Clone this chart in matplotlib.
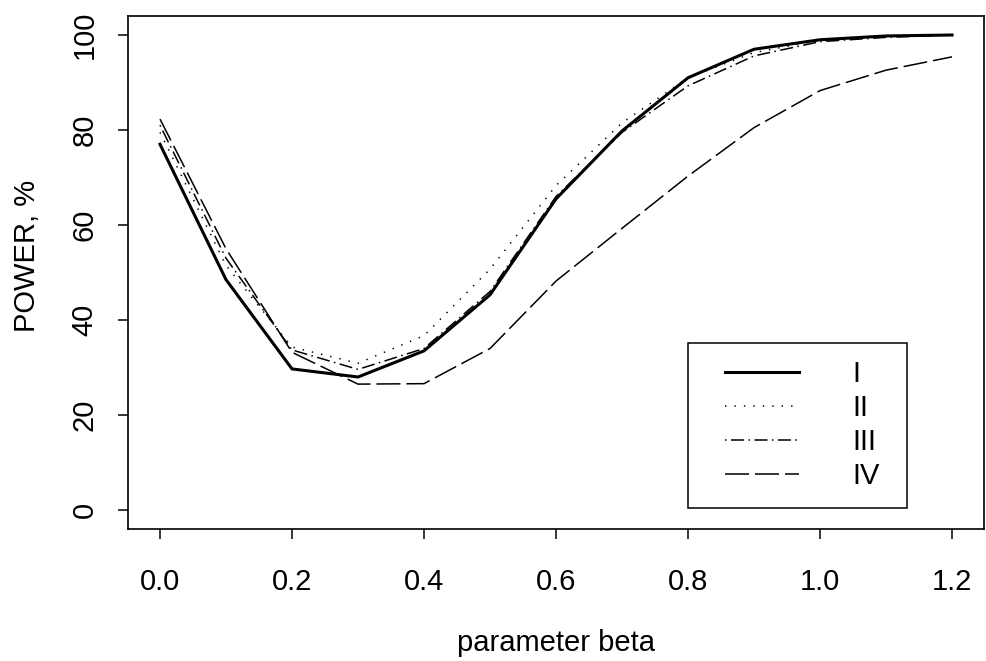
import numpy as np
import matplotlib
matplotlib.use('Agg')
import matplotlib.pyplot as plt
from matplotlib.lines import Line2D
from matplotlib.legend_handler import HandlerLine2D

plt.rcParams['font.family'] = ['Liberation Sans', 'DejaVu Sans']
plt.rcParams['font.size'] = 21
plt.rcParams['lines.scale_dashes'] = False

# power curves
beta = [0.0, 0.1, 0.2, 0.3, 0.4, 0.5, 0.6, 0.7, 0.8, 0.9, 1.0, 1.1, 1.2]
power_I = [77.0, 48.5, 29.7, 28.0, 33.5, 45.3, 65.5, 79.8, 91.0, 97.0, 99.0, 99.8, 100.0]
power_II = [79.5, 51.5, 34.3, 30.9, 36.7, 50.7, 68.3, 81.5, 91.0, 96.3, 98.9, 99.7, 100.0]
power_III = [81.0, 53.0, 33.7, 29.6, 34.0, 46.0, 66.0, 79.5, 89.3, 95.6, 98.6, 99.5, 100.0]
power_IV = [82.3, 55.0, 33.2, 26.5, 26.6, 34.0, 48.2, 59.3, 70.3, 80.5, 88.3, 92.6, 95.4]
labels = ['I', 'II', 'III', 'IV']

xticks = [0.0, 0.2, 0.4, 0.6, 0.8, 1.0, 1.2]
yticks = [0, 20, 40, 60, 80, 100]

fig = plt.figure(figsize=(9.87, 6.61), dpi=100)
ax = fig.add_axes([0.13, 0.1997, 0.8667, 0.7761])

ax.plot(beta, power_I, color='black', lw=2.2, label=labels[0])
ax.plot(beta, power_II, color='black', lw=1.1, dashes=(1.0, 5.8), label=labels[1])
ax.plot(beta, power_III, color='black', lw=1.1, dashes=(1.1, 3.2, 9.4, 3.2), label=labels[2])
ax.plot(beta, power_IV, color='black', lw=1.1, dashes=(17.3, 4.3), label=labels[3])

# R style axes: 4% padding, outward ticks
ax.set_xlim(-0.048, 1.248)
ax.set_ylim(-4, 104)
ax.set_xticks(xticks)
ax.set_xticklabels(['%.1f' % t for t in xticks])
ax.set_yticks(yticks)
ax.tick_params(direction='out', length=7.2, width=1.1)
ax.tick_params(axis='x', pad=21)
ax.tick_params(axis='y', pad=14, labelrotation=90)
for lab in ax.get_yticklabels():
    lab.set_va('center')
for s in ax.spines.values():
    s.set_linewidth(1.2)

ax.set_xlabel('parameter beta', labelpad=0)
ax.set_ylabel('POWER, %')
ax.xaxis.set_label_coords(0.5, -0.195)
ax.yaxis.set_label_coords(-0.102, 0.532)

handler = HandlerLine2D(marker_pad=0.69, numpoints=2)
leg = ax.legend(loc='upper left', bbox_to_anchor=(0.654, 0.043, 0.256, 0.32),
                mode='expand', borderaxespad=0, handlelength=3.9,
                handletextpad=1.17, borderpad=0.59, labelspacing=0.21,
                fancybox=False, edgecolor='black', framealpha=1,
                handler_map={Line2D: handler})
leg.get_frame().set_linewidth(1.1)

fig.savefig('out.png', dpi=100)
